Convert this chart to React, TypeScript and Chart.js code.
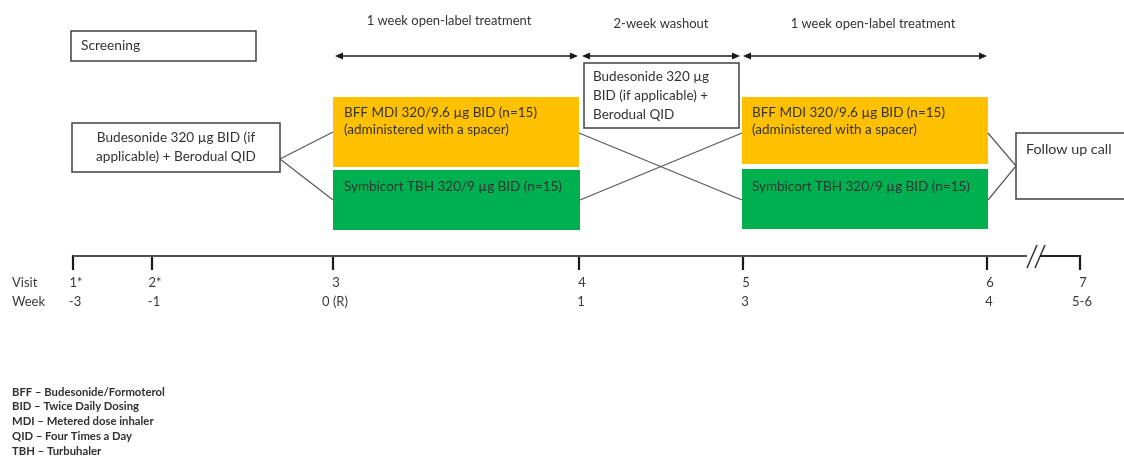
import React, { useEffect, useRef } from "react";
import { Chart, registerables } from "chart.js";

Chart.register(...registerables);

// ---------- data ----------
const visitLabels = ["1*", "2*", "3", "4", "5", "6", "7"];
const weekLabels = ["-3", "-1", "0 (R)", "1", "3", "4", "5-6"];
const visitPositions = [73, 152, 333, 579, 743, 987, 1080];

const phaseTitles = ["1 week open-label treatment", "2-week washout", "1 week open-label treatment"];
const phaseStarts = [335, 582, 743];
const phaseEnds = [578, 740, 987];

const screeningText = ["Screening"];
const runInText = ["Budesonide 320 µg BID (if", "applicable) + Berodual QID"];
const treatmentAText = ["BFF MDI 320/9.6 µg BID (n=15)", "(administered with a spacer)"];
const treatmentBText = ["Symbicort TBH 320/9 µg BID (n=15)"];
const washoutText = ["Budesonide 320 µg", "BID (if applicable) +", "Berodual QID"];
const followUpText = ["Follow up call"];

const abbreviations = [
  "BFF – Budesonide/Formoterol",
  "BID – Twice Daily Dosing",
  "MDI – Metered dose inhaler",
  "QID – Four Times a Day",
  "TBH – Turbuhaler",
];

// ---------- layout (diagram units) ----------
const FONT = "Lato, 'Open Sans', sans-serif";
const ORANGE = "#FFC000";
const GREEN = "#00B050";
const TEXT = "#333333";

type Box = {
  x0: number; x1: number; y0: number; y1: number;
  fill: string | null; lines: string[]; align: "left" | "center";
  tx: number; ty: number[]; size: number;
};

const boxes: Box[] = [
  { x0: 71, x1: 256, y0: 31, y1: 61, fill: null, lines: screeningText, align: "left", tx: 81, ty: [46], size: 13.8 },
  { x0: 72, x1: 280, y0: 123, y1: 172, fill: null, lines: runInText, align: "center", tx: 176, ty: [138, 157], size: 13.6 },
  { x0: 333, x1: 579, y0: 97, y1: 167, fill: ORANGE, lines: treatmentAText, align: "left", tx: 344, ty: [113, 130], size: 13.5 },
  { x0: 333, x1: 580, y0: 170, y1: 230, fill: GREEN, lines: treatmentBText, align: "left", tx: 344, ty: [187], size: 13.5 },
  { x0: 584, x1: 739, y0: 63, y1: 128, fill: null, lines: washoutText, align: "left", tx: 593, ty: [77, 96, 115], size: 13.5 },
  { x0: 742, x1: 988, y0: 97, y1: 164, fill: ORANGE, lines: treatmentAText, align: "left", tx: 752, ty: [113, 130], size: 13.5 },
  { x0: 742, x1: 988, y0: 169, y1: 229, fill: GREEN, lines: treatmentBText, align: "left", tx: 752, ty: [187], size: 13.5 },
  { x0: 1016, x1: 1140, y0: 133, y1: 199, fill: null, lines: followUpText, align: "left", tx: 1026, ty: [149], size: 14.3 },
];

const connectors: [number, number, number, number][] = [
  [280, 159, 333, 132],
  [280, 159, 333, 200],
  [579, 133, 742, 200],
  [580, 200, 742, 133],
  [988, 133, 1016, 166],
  [988, 200, 1016, 166],
];

const titleX = [449, 661, 873];
const titleY = [21, 24, 24];
const arrowY = 56;
const axisY = 256;
const tickBottom = 270;
const breakX = 1027;
const visitRowY = 283;
const weekRowY = 302;
const abbrevY0 = 392;
const abbrevStep = 14.8;

function App() {
  const ref = useRef<HTMLCanvasElement | null>(null);

  useEffect(() => {
    if (!ref.current) return;

    const datasets: any[] = [];
    connectors.forEach((c) => {
      datasets.push({
        data: [{ x: c[0], y: c[1] }, { x: c[2], y: c[3] }],
        showLine: true, borderColor: "#595959", borderWidth: 1.2, pointRadius: 0,
      });
    });
    // timeline main line
    datasets.push({
      data: [{ x: visitPositions[0], y: axisY }, { x: breakX, y: axisY }],
      showLine: true, borderColor: "#505050", borderWidth: 2, pointRadius: 0,
    });
    datasets.push({
      data: [{ x: breakX + 13, y: axisY }, { x: visitPositions[6], y: axisY }],
      showLine: true, borderColor: "#202020", borderWidth: 2, pointRadius: 0,
    });
    // break marks
    [0, 8].forEach((o) => {
      datasets.push({
        data: [{ x: breakX + o, y: 268 }, { x: breakX + o + 10, y: 245 }],
        showLine: true, borderColor: "#303030", borderWidth: 1.5, pointRadius: 0,
      });
    });
    // ticks
    visitPositions.forEach((p) => {
      datasets.push({
        data: [{ x: p, y: axisY - 1 }, { x: p, y: tickBottom }],
        showLine: true, borderColor: "#1a1a1a", borderWidth: 2.2, pointRadius: 0,
      });
    });

    const diagram = {
      id: "diagram",
      beforeDatasetsDraw(chart: any) {
        const { ctx, scales } = chart;
        const X = (v: number) => scales.x.getPixelForValue(v);
        const Y = (v: number) => scales.y.getPixelForValue(v);
        ctx.save();
        boxes.forEach((b) => {
          const x0 = X(b.x0), x1 = X(b.x1), y0 = Y(b.y0), y1 = Y(b.y1);
          if (b.fill) {
            ctx.fillStyle = b.fill;
            ctx.fillRect(x0, y0, x1 - x0, y1 - y0);
          } else {
            ctx.fillStyle = "#ffffff";
            ctx.fillRect(x0, y0, x1 - x0, y1 - y0);
            ctx.strokeStyle = "#404040";
            ctx.lineWidth = 1.5;
            ctx.strokeRect(x0, y0, x1 - x0, y1 - y0);
          }
        });
        ctx.restore();
      },
      afterDatasetsDraw(chart: any) {
        const { ctx, scales } = chart;
        const X = (v: number) => scales.x.getPixelForValue(v);
        const Y = (v: number) => scales.y.getPixelForValue(v);
        ctx.save();
        ctx.textBaseline = "middle";

        // box texts
        boxes.forEach((b) => {
          ctx.fillStyle = TEXT;
          ctx.font = `${b.size}px ${FONT}`;
          ctx.textAlign = b.align;
          b.lines.forEach((l, i) => ctx.fillText(l, X(b.tx), Y(b.ty[i])));
        });

        // phase titles and arrows
        phaseTitles.forEach((t, i) => {
          const s = phaseStarts[i], e = phaseEnds[i];
          ctx.fillStyle = TEXT;
          ctx.font = `13px ${FONT}`;
          ctx.textAlign = "center";
          ctx.fillText(t, X(titleX[i]), Y(titleY[i]));
          const y = Y(arrowY);
          ctx.strokeStyle = "#1a1a1a";
          ctx.lineWidth = 1.6;
          ctx.beginPath();
          ctx.moveTo(X(s) + 4, y);
          ctx.lineTo(X(e) - 4, y);
          ctx.stroke();
          ctx.fillStyle = "#1a1a1a";
          const head = (x: number, dir: number) => {
            ctx.beginPath();
            ctx.moveTo(x, y);
            ctx.lineTo(x - dir * 8, y - 3.5);
            ctx.lineTo(x - dir * 8, y + 3.5);
            ctx.closePath();
            ctx.fill();
          };
          head(X(s), -1);
          head(X(e), 1);
        });

        // visit/week rows
        ctx.font = `13px ${FONT}`;
        ctx.fillStyle = "#3a3a3a";
        ctx.textAlign = "left";
        ctx.fillText("Visit", X(12), Y(visitRowY));
        ctx.fillText("Week", X(12), Y(weekRowY));
        ctx.textAlign = "center";
        visitPositions.forEach((p, i) => {
          ctx.fillText(visitLabels[i], X(p + 3), Y(visitRowY));
          ctx.fillText(weekLabels[i], X(p + 2), Y(weekRowY));
        });

        // abbreviations
        ctx.font = `bold 11.3px ${FONT}`;
        ctx.fillStyle = "#303030";
        ctx.textAlign = "left";
        abbreviations.forEach((a, i) => ctx.fillText(a, X(12), Y(abbrevY0 + i * abbrevStep)));
        ctx.restore();
      },
    };

    const chart = new Chart(ref.current, {
      type: "scatter",
      data: { datasets },
      options: {
        animation: false,
        responsive: false,
        devicePixelRatio: 1,
        events: [],
        layout: { padding: 0 },
        plugins: { legend: { display: false }, tooltip: { enabled: false } },
        scales: {
          x: { type: "linear", min: 0, max: 1124, display: false },
          y: { type: "linear", min: 0, max: 457, reverse: true, display: false },
        },
      },
      plugins: [diagram],
    });
    return () => chart.destroy();
  }, []);

  return (
    <div style={{ position: "absolute", left: 0, top: 0, width: 1124, height: 457, background: "#fff" }}>
      <canvas ref={ref} width={1124} height={457} style={{ display: "block" }} />
    </div>
  );
}

export default App;
